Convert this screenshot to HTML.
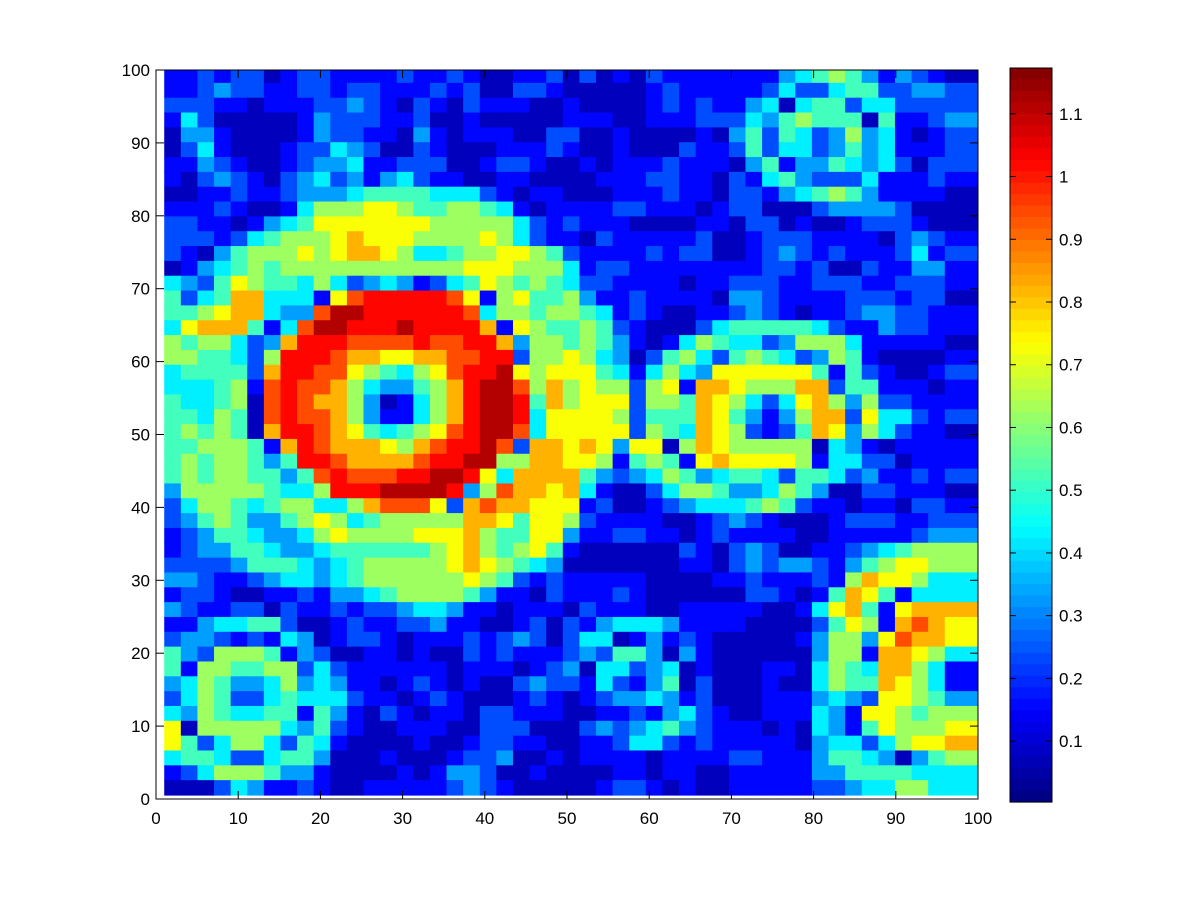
<!DOCTYPE html>
<html><head><meta charset="utf-8"><style>
html,body{margin:0;padding:0;background:#fff;}
svg text{font-family:"Liberation Sans",sans-serif;font-size:17px;fill:#000;}
</style></head><body>
<svg id="chart" width="1200" height="900" viewBox="0 0 1200 900" xmlns="http://www.w3.org/2000/svg">
<defs><clipPath id="plotclip"><rect x="156" y="70" width="822" height="729"/></clipPath></defs>
<rect x="0" y="0" width="1200" height="900" fill="#fff"/>
<g id="cells" clip-path="url(#plotclip)"></g>
<g id="axes"></g>
<g id="cbar"></g>
</svg>
<script>
// data: coded cell levels (0..b), rows listed from top (y=100) to bottom (y=0)
const levelCodes = "0123456789ab";
const levelT = [0.06,0.13,0.20,0.28,0.36,0.44,0.53,0.62,0.70,0.80,0.87,0.95];
const rows = [
"1 1 2 1 2 2 0 1 2 2 1 1 1 1 2 1 1 2 1 0 0 1 1 2 0 2 0 1 0 2 1 1 1 1 1 1 1 3 4 5 6 5 3 1 3 2 1 0 0",
"1 1 2 3 2 2 1 1 2 2 1 2 2 1 1 1 2 1 2 0 0 2 2 1 0 0 0 0 0 1 2 1 1 1 1 1 2 4 2 2 4 5 5 2 2 3 3 2 2",
"2 2 2 1 1 0 1 1 1 2 2 3 2 1 0 2 1 0 2 1 1 1 0 0 1 0 0 0 0 1 2 1 2 1 1 3 4 0 4 5 5 2 4 4 2 2 2 2 2",
"1 4 2 0 0 0 0 0 1 3 2 2 2 1 1 2 0 0 1 0 0 0 0 0 1 1 1 0 0 1 1 1 2 2 2 4 3 5 6 5 5 5 0 5 1 1 2 3 3",
"0 3 3 1 0 0 0 0 1 3 2 2 1 1 0 3 1 0 1 1 1 0 0 2 2 0 0 1 0 0 0 0 1 0 3 5 2 5 4 2 3 6 3 4 1 0 1 2 2",
"0 2 4 1 0 0 0 1 2 2 4 3 2 0 0 2 1 0 0 0 1 1 1 2 1 0 0 1 0 0 0 2 1 1 2 5 2 4 4 2 3 5 3 4 1 1 1 2 2",
"1 1 3 2 1 0 0 1 2 3 3 4 1 1 2 2 2 0 0 1 2 2 1 0 0 1 0 1 1 1 2 1 1 1 0 3 5 1 3 3 5 4 3 4 2 0 2 2 2",
"1 0 2 3 2 1 0 2 3 4 2 3 1 3 4 2 1 1 0 0 1 1 0 0 0 0 1 1 1 2 2 1 1 0 2 1 4 5 3 2 2 2 4 1 1 1 2 1 1",
"0 0 1 1 2 1 1 2 3 3 3 4 5 5 5 5 4 4 4 2 1 0 1 1 0 0 0 1 1 1 2 1 1 0 2 2 1 3 4 5 6 5 3 1 1 1 1 0 0",
"1 1 1 2 1 0 0 1 4 6 6 6 7 7 6 5 5 6 6 5 4 1 0 1 1 1 1 2 2 1 1 1 0 1 2 2 0 0 0 2 3 3 3 3 2 0 0 0 0",
"2 2 1 1 0 1 3 4 5 7 7 7 7 7 7 7 6 6 6 6 6 4 2 1 2 1 1 1 0 0 0 0 1 1 0 2 2 0 1 0 0 1 2 2 2 1 0 0 0",
"2 2 2 1 2 4 5 6 6 6 7 8 7 7 7 6 6 6 6 7 6 4 2 1 1 0 2 1 1 1 1 1 2 0 0 1 2 2 2 1 1 1 1 0 2 3 2 1 1",
"2 1 0 3 5 6 6 6 7 6 7 8 8 7 6 4 4 5 6 6 7 7 6 5 2 1 1 1 1 2 1 2 2 0 0 1 2 3 2 1 2 1 1 1 2 4 1 2 2",
"0 1 3 4 5 6 5 6 6 6 6 6 6 6 6 6 6 6 7 7 7 6 6 6 4 1 2 2 1 1 1 1 1 1 1 1 2 2 1 2 0 0 2 1 1 3 3 1 1",
"4 3 2 5 7 6 5 5 4 6 4 2 3 4 3 1 2 4 5 7 6 5 6 5 4 2 2 1 1 1 1 0 1 1 2 2 2 1 1 2 2 2 1 1 2 2 2 1 1",
"5 2 4 5 8 8 4 4 4 1 7 9 a a a a a 9 7 1 6 7 5 5 6 3 1 1 2 1 1 1 1 0 3 3 2 1 1 1 1 2 2 2 1 2 2 0 0",
"5 5 6 7 8 8 4 3 3 9 b b a a a a a a 9 4 6 6 5 6 6 5 4 1 2 1 0 0 1 1 2 3 2 1 0 1 1 2 3 3 2 2 1 1 1",
"4 7 8 8 8 5 1 4 9 b b a a a b a a a a 8 1 7 6 5 5 6 5 2 1 0 0 0 2 4 5 5 5 5 5 4 2 1 1 3 2 2 1 1 1",
"6 5 6 6 4 2 3 8 a a a 9 9 9 9 a 9 9 a a 8 3 6 6 5 6 5 3 1 0 1 4 6 5 4 4 2 3 6 6 6 4 1 1 1 1 1 0 0",
"6 6 5 5 4 2 6 a a a 9 8 8 7 7 8 8 9 9 a a 2 6 6 7 6 4 3 0 2 5 6 4 2 5 6 5 4 2 3 6 5 1 0 0 0 0 1 1",
"4 5 5 5 5 2 8 a a 9 9 7 6 5 4 6 7 9 a a b 7 6 7 7 7 5 4 1 4 6 4 3 7 7 7 7 7 7 5 1 5 2 1 0 0 1 2 2",
"4 4 4 5 6 1 9 a 9 9 8 6 4 3 3 5 6 8 a b b 9 6 8 6 7 6 6 2 6 7 1 8 8 7 6 6 6 8 8 2 5 5 1 1 1 0 1 1",
"5 4 4 5 6 0 9 a 9 8 8 6 3 0 1 4 6 8 a b b a 5 8 6 7 7 7 2 6 6 5 8 7 6 4 2 4 7 8 6 3 6 2 2 1 1 1 1",
"5 5 4 6 5 0 9 a 9 9 8 6 3 1 1 4 6 8 a b b a 4 7 7 7 7 6 2 5 5 5 8 7 5 3 1 3 6 8 8 2 7 4 4 2 1 2 2",
"5 6 5 6 5 0 8 a a 9 8 7 5 4 5 6 7 9 a b b 9 4 7 7 7 7 7 2 6 5 4 8 7 6 2 1 2 5 8 7 3 6 4 2 1 1 0 0",
"5 5 6 6 6 5 1 8 a 9 8 8 8 7 6 8 9 a a b 9 2 8 8 7 8 7 3 7 7 0 6 8 7 6 6 6 6 6 0 4 3 1 0 1 1 1 1 1",
"5 6 5 6 6 5 3 5 a a 9 8 8 8 8 9 a a b b 6 6 8 8 7 7 6 1 5 6 5 1 7 8 7 7 7 7 6 1 4 4 2 2 0 1 1 1 1",
"5 6 5 6 6 5 5 3 5 9 a 9 9 9 a a b b a 7 4 8 8 8 8 5 3 2 3 4 6 5 3 4 5 5 4 2 5 5 4 2 3 1 1 2 1 2 2",
"3 6 6 6 6 6 5 4 4 6 a a a b b b b a 3 6 9 8 8 7 8 4 1 0 0 2 4 6 6 5 3 3 4 6 5 3 0 0 2 2 1 1 1 0 0",
"2 4 6 6 5 4 5 6 6 4 4 6 8 9 9 9 7 2 8 9 8 8 7 7 7 1 2 0 0 1 2 3 4 4 4 5 6 5 2 1 1 0 1 1 0 2 2 1 1",
"2 3 5 6 5 3 3 5 6 7 6 4 5 6 6 6 6 6 8 8 7 5 7 7 6 2 1 1 1 1 0 0 1 2 3 2 1 0 0 0 1 2 2 2 1 1 2 2 2",
"1 2 3 5 5 4 3 3 4 6 7 6 6 6 6 7 7 7 8 6 5 5 7 7 3 1 1 2 2 1 1 0 1 2 1 1 1 1 0 0 1 1 1 1 1 2 3 3 3",
"1 2 3 3 5 5 4 3 3 4 5 5 5 5 5 5 6 7 8 6 5 6 7 5 1 0 0 0 0 0 0 2 1 0 2 3 2 0 0 1 1 2 3 4 5 6 6 6 6",
"2 2 2 2 3 5 5 5 4 3 4 5 6 6 6 6 6 7 8 7 6 5 4 3 0 0 0 0 0 0 0 1 1 0 2 3 2 3 3 2 1 3 5 6 7 7 6 6 6",
"3 3 2 1 1 2 3 4 4 3 4 5 6 6 6 6 6 6 7 6 5 2 1 2 1 1 1 1 1 0 0 0 0 1 1 2 1 1 1 2 1 6 8 7 7 6 4 4 4",
"1 2 2 1 0 0 1 1 2 1 3 3 4 5 6 6 6 6 5 3 1 1 0 2 1 1 1 2 1 0 0 0 0 0 0 2 2 1 0 1 5 8 7 5 1 4 4 4 4",
"3 2 1 1 2 2 0 2 1 1 2 1 2 2 3 4 4 3 1 1 0 1 1 1 0 2 1 1 1 0 0 1 1 1 1 1 0 0 1 4 7 8 5 1 7 8 8 8 8",
"1 1 3 4 4 5 5 2 0 0 1 2 1 1 2 2 3 1 1 0 0 1 2 0 2 1 3 4 4 4 3 1 1 1 1 0 0 0 0 2 5 7 6 1 8 9 8 7 7",
"2 3 3 2 1 2 1 4 3 0 1 2 2 1 0 1 1 1 2 1 2 3 2 0 2 4 4 0 1 3 1 2 1 0 0 0 0 0 1 3 6 6 3 7 9 8 8 7 7",
"5 3 2 6 6 6 5 1 3 2 0 0 1 1 0 1 0 0 2 1 2 1 1 1 2 3 2 5 5 3 0 3 1 0 0 0 0 0 0 3 6 6 1 8 8 7 6 4 4",
"5 1 6 6 5 5 6 6 2 4 2 1 1 1 1 1 1 0 1 1 1 0 1 2 3 0 4 4 2 3 4 0 1 0 0 0 1 1 0 4 6 5 4 8 8 6 4 1 1",
"3 4 6 5 3 3 4 6 3 4 3 1 1 0 1 2 1 0 1 0 0 2 3 2 2 1 4 2 1 3 5 0 2 0 0 0 1 0 0 4 6 5 5 8 7 6 4 1 1",
"2 4 6 5 2 2 4 5 4 4 4 2 1 1 0 1 2 1 0 0 0 1 2 1 0 1 2 3 3 4 3 1 2 0 0 0 1 1 1 3 4 3 2 7 7 6 5 3 3",
"4 3 6 5 4 4 5 5 1 5 3 1 0 2 1 0 1 1 0 2 2 1 1 1 0 0 1 1 2 1 3 4 2 1 0 0 1 1 1 4 3 1 7 7 6 5 6 6 6",
"7 0 6 6 6 6 6 4 3 5 2 1 0 0 1 1 1 0 0 2 2 2 0 0 0 2 3 2 3 4 5 3 2 1 1 1 0 1 0 4 3 1 5 7 6 6 6 7 7",
"7 5 2 4 6 6 4 2 5 4 1 0 0 0 0 1 0 0 1 2 2 1 1 0 0 1 1 2 4 4 2 1 2 1 1 1 1 1 0 3 4 4 2 4 6 7 7 8 8",
"4 5 5 4 2 2 4 5 5 3 0 0 0 1 0 0 0 1 2 2 3 0 0 1 0 1 1 1 1 0 1 1 1 1 2 2 1 1 1 3 5 5 4 3 0 3 5 6 6",
"1 2 4 6 6 6 5 3 3 1 0 0 0 0 1 0 1 3 3 2 0 0 1 0 0 0 0 1 1 0 1 1 0 0 1 1 1 1 1 3 3 5 5 5 5 4 4 4 4",
"0 0 0 2 4 3 1 1 2 1 0 0 1 1 1 1 1 2 3 2 1 0 0 0 0 0 1 2 2 1 0 1 0 0 1 1 1 1 1 2 2 3 4 4 6 6 4 4 4"
];
const xTicks = [0,10,20,30,40,50,60,70,80,90,100];
const yTicks = [0,10,20,30,40,50,60,70,80,90,100];
const cbTicks = [0.1,0.2,0.3,0.4,0.5,0.6,0.7,0.8,0.9,1,1.1];
const cbLabels = ["0.1","0.2","0.3","0.4","0.5","0.6","0.7","0.8","0.9","1","1.1"];
const vMin = 0.003, vMax = 1.173;

const NS = "http://www.w3.org/2000/svg";
const X0=156, X1=978, Y0=799, Y1=70;
const sx = v => X0 + (v/100)*(X1-X0);
const sy = v => Y0 - (v/100)*(Y0-Y1);
const CB_X=1010, CB_W=42, CB_TOP=68, CB_BOT=802;
const cy = v => CB_TOP + (vMax - v)/(vMax - vMin)*(CB_BOT-CB_TOP);

function jet(t){
  const c = x => Math.max(0, Math.min(1, x));
  const r = c(1.5 - Math.abs(4*t - 3)), g = c(1.5 - Math.abs(4*t - 2)), b = c(1.5 - Math.abs(4*t - 1));
  return `rgb(${Math.round(r*255)},${Math.round(g*255)},${Math.round(b*255)})`;
}
function mk(tag, attrs, parent){
  const e = document.createElementNS(NS, tag);
  for (const k in attrs) e.setAttribute(k, attrs[k]);
  parent.appendChild(e);
  return e;
}
const cells = document.getElementById('cells');
const nRows = rows.length;
const grid = rows.map(r => r.trim().split(/\s+/).map(ch => vMin + levelT[Math.max(0, levelCodes.indexOf(ch))]*(vMax-vMin)));
const nCols = 49;
// cell extents in data units (grid spans x 1..100, y 0.55..100.27)
const gx0 = 1, gx1 = 100, gyBot = 0.55, gyTop = 100.27;
for (let r = 0; r < nRows; r++) {
  for (let c = 0; c < nCols; c++) {
    const v = grid[r][c] !== undefined ? grid[r][c] : grid[r][grid[r].length-1];
    const xa = gx0 + c*(gx1-gx0)/nCols, xb = gx0 + (c+1)*(gx1-gx0)/nCols;
    const yT = gyTop - r*(gyTop-gyBot)/nRows, yB = gyTop - (r+1)*(gyTop-gyBot)/nRows;
    const rect = mk('rect', {x: sx(xa).toFixed(2), y: sy(yT).toFixed(2), width: (sx(xb)-sx(xa)+0.6).toFixed(2), height: (sy(yB)-sy(yT)+0.6).toFixed(2), fill: jet((v-vMin)/(vMax-vMin))}, cells);
    
    
  }
}
const axes = document.getElementById('axes');
const frame = mk('rect', {x:X0, y:Y1, width:X1-X0, height:Y0-Y1, fill:'none', stroke:'#000', 'stroke-width':1}, axes);


xTicks.forEach(v => {
  const x = sx(v);
  mk('line', {x1:x, y1:Y0, x2:x, y2:Y0-8, stroke:'#000'}, axes);
  mk('line', {x1:x, y1:Y1, x2:x, y2:Y1+8, stroke:'#000'}, axes);
  const t = mk('text', {x:x, y:Y0+25, 'text-anchor':'middle'}, axes);
  t.textContent = v;
  
  
});
yTicks.forEach(v => {
  const y = sy(v);
  mk('line', {x1:X0, y1:y, x2:X0+8, y2:y, stroke:'#000'}, axes);
  mk('line', {x1:X1, y1:y, x2:X1-8, y2:y, stroke:'#000'}, axes);
  const t = mk('text', {x:X0-6, y:y+6, 'text-anchor':'end'}, axes);
  t.textContent = v;
  
  
});
const cbar = document.getElementById('cbar');
const nb = 64;
for (let i = 0; i < nb; i++) {
  const ya = CB_TOP + i*(CB_BOT-CB_TOP)/nb;
  const b = mk('rect', {x:CB_X, y:ya.toFixed(2), width:CB_W, height:((CB_BOT-CB_TOP)/nb+0.6).toFixed(2), fill: jet(1 - (i+0.5)/nb)}, cbar);
  
  
}
mk('rect', {x:CB_X, y:CB_TOP, width:CB_W, height:CB_BOT-CB_TOP, fill:'none', stroke:'#000'}, cbar);
cbTicks.forEach((v,i) => {
  const y = cy(v);
  mk('line', {x1:CB_X, y1:y, x2:CB_X+6, y2:y, stroke:'#000'}, cbar);
  mk('line', {x1:CB_X+CB_W, y1:y, x2:CB_X+CB_W-6, y2:y, stroke:'#000'}, cbar);
  const t = mk('text', {x:CB_X+CB_W+7, y:y+6}, cbar);
  t.textContent = cbLabels[i];
  
  
});
</script>
</body></html>
